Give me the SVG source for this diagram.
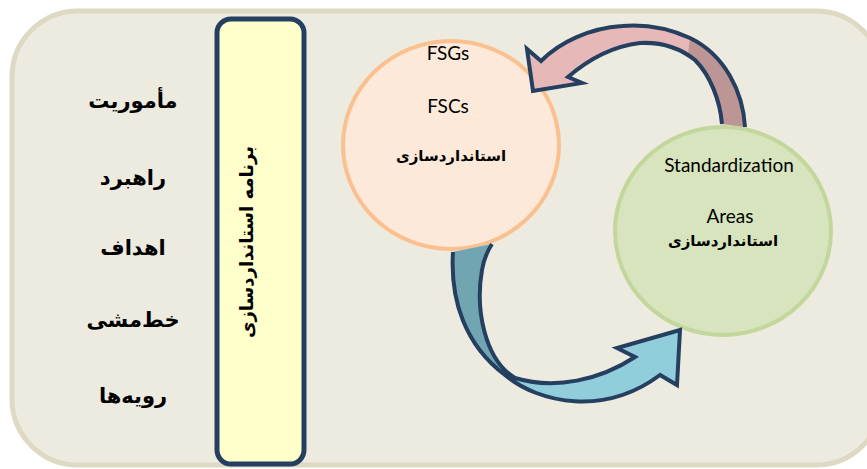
<svg xmlns="http://www.w3.org/2000/svg" width="867" height="469" viewBox="0 0 867 469">
<style>
.ar{font-family:"DejaVu Sans",sans-serif;font-weight:bold;fill:#000;text-anchor:middle}
.en{font-family:Lato,"Liberation Sans",sans-serif;fill:#000;text-anchor:middle}
.arrow{stroke:#243f60;stroke-width:4;stroke-linejoin:miter}
</style>
<rect x="12" y="11" width="870" height="454" rx="66" fill="#edebe0" stroke="#ddd9c3" stroke-width="5"/>
<g id="labels">
<text class="ar" x="133" y="108" font-size="21">مأموریت</text>
<text class="ar" x="133" y="185" font-size="21">راهبرد</text>
<text class="ar" x="133" y="255" font-size="21">اهداف</text>
<text class="ar" x="133" y="327" font-size="21">خط‌مشی</text>
<text class="ar" x="133" y="403" font-size="21">رویه‌ها</text>
</g>
<g id="program">
<rect x="217" y="19" width="87" height="445" rx="14" fill="#ffffcc" stroke="#243f60" stroke-width="5"/>
<text class="ar" font-size="18" transform="translate(253,242) rotate(-90)">برنامه استانداردسازی</text>
</g>
<g id="fsg">
<ellipse cx="451" cy="145" rx="108" ry="104" fill="#fde9d9" stroke="#fac090" stroke-width="4"/>
<text class="en" x="448" y="60" font-size="19">FSGs</text>
<text class="en" x="448" y="113" font-size="19">FSCs</text>
<text class="ar" x="451" y="161" font-size="15">استانداردسازی</text>
</g>
<g id="areas">
<ellipse cx="723" cy="231" rx="108" ry="104" fill="#d7e4bd" stroke="#c3d69b" stroke-width="4"/>
<text class="en" x="729" y="172" font-size="19">Standardization</text>
<text class="en" x="730" y="223" font-size="19">Areas</text>
<text class="ar" x="723" y="246" font-size="15">استانداردسازی</text>
</g>
<g id="connectors">
<g id="arrow-top">
<path d="M745,127 C743,92 725,55 690,38 C668,28 645,24 622,26 C590,28 560,42 541,61 L527,49 L533,91 L582,83 L568,77 C590,58 615,46 640,43 C660,42 680,48 695,60 C710,75 720,100 722,124" fill="#e6b9b8" stroke="none"/>
<path d="M745,127 C743,92 725,55 690,38 L688,54 C705,68 719,98 722,124 Z" fill="#bd9595" stroke="none"/>
<path class="arrow" d="M745,127 C743,92 725,55 690,38 C668,28 645,24 622,26 C590,28 560,42 541,61 L527,49 L533,91 L582,83 L568,77 C590,58 615,46 640,43 C660,42 680,48 695,60 C710,75 720,100 722,124" fill="none"/>
</g>
<g id="arrow-bottom">
<path d="M453,252 C450,300 465,345 505,375 C540,404 605,416 660,375 L677,385 L680,330 L617,348 L635,357 C600,380 555,390 515,378 C485,360 475,310 482,270 C484,258 488,250 492,244" fill="#92cddc" stroke="none"/>
<path d="M453,252 C450,300 465,345 505,375 L516,380 C485,360 475,310 482,270 C484,258 488,250 492,244 Z" fill="#72a5b2" stroke="none"/>
<path class="arrow" d="M453,252 C450,300 465,345 505,375 C540,404 605,416 660,375 L677,385 L680,330 L617,348 L635,357 C600,380 555,390 515,378 C485,360 475,310 482,270 C484,258 488,250 492,244" fill="none"/>
</g>
</g>
</svg>
